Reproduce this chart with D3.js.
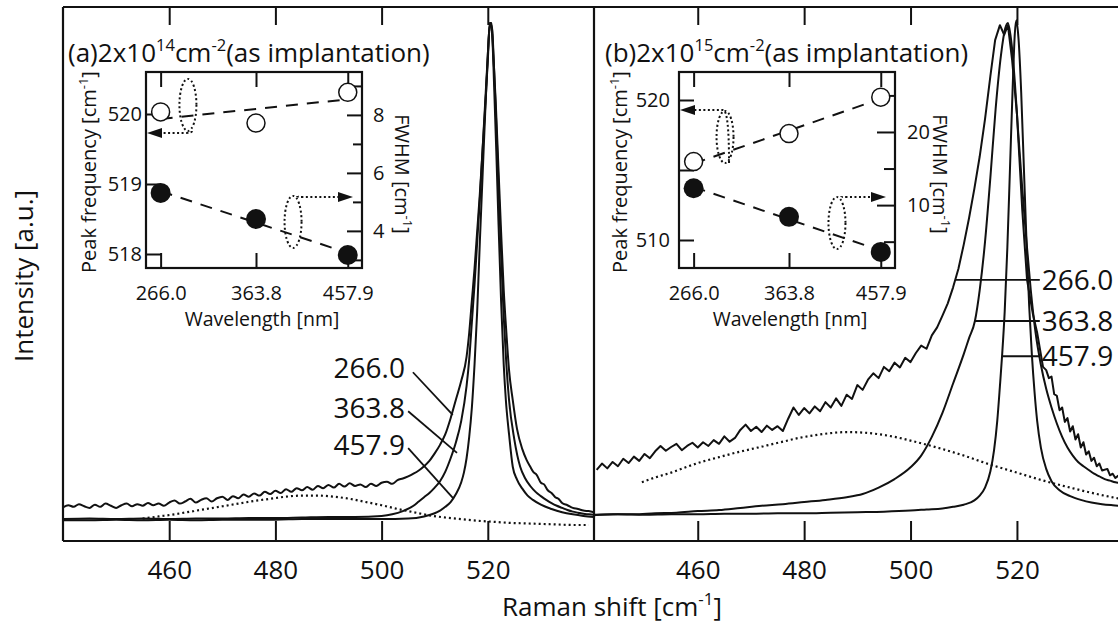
<!DOCTYPE html>
<html><head><meta charset="utf-8">
<script src="https://cdnjs.cloudflare.com/ajax/libs/d3/7.8.5/d3.min.js"></script>
<style>body{margin:0;background:#fff}svg{display:block}text{font-family:'Open Sans',sans-serif;fill:#111}</style>
</head><body>
<script>
// ---------------- DATA ----------------
const ramanTicks = [460, 480, 500, 520];
const wavelengths = [266.0, 363.8, 457.9];
const wavelengthLabels = ["266.0", "363.8", "457.9"];

// inset (a) 2x10^14
const peakFreqA = [520.03, 519.87, 520.31];
const fwhmA = [5.31, 4.41, 3.17];
const fitPeakA = [519.93, 520.21];
const fitFwhmA = [5.37, 3.24];
// inset (b) 2x10^15
const peakFreqB = [515.6, 517.6, 520.2];
const fwhmB = [12.3, 8.4, 3.6];
const fitPeakB = [515.46, 520.09];
const fitFwhmB = [12.47, 3.78];

// spectra (a) [Raman shift, intensity a.u.]
const a266 = [
[440,6.3],[441,6.7],[442,6.4],[443,6.9],[444,6.5],[445,6.2],[446,6.8],[447,6.4],[448,7.0],[449,6.6],
[450,6.2],[451,6.7],[452,7.0],[453,6.5],[454,6.9],[455,6.6],[456,7.1],[457,6.7],[458,7.0],[459,6.6],
[460,7.2],[461,7.6],[462,7.0],[463,7.4],[464,7.9],[465,7.2],[466,7.7],[467,8.0],[468,7.4],[469,8.0],
[470,8.3],[471,7.7],[472,8.4],[473,8.0],[474,8.7],[475,8.3],[476,8.9],[477,8.5],[478,9.2],[479,8.8],
[480,9.4],[481,9.0],[482,9.7],[483,9.2],[484,9.9],[485,9.5],[486,10.1],[487,9.6],[488,10.3],[489,9.9],
[490,10.5],[491,10.0],[492,10.7],[493,10.2],[494,10.8],[495,10.3],[496,10.6],[497,10.1],[498,10.7],[499,10.3],
[500,10.9],[501,11.1],[502,10.7],[503,11.4],[504,11.7],[505,12.1],[506,12.6],[507,13.2],[508,14.0],[509,15.0],
[510,16.4],[511,18.0],[512,20.0],[513,23.0],[514,26.5],[515,30.0],[516,34.5],[516.5,39],[517,45],[517.5,51],
[518,58],[518.5,65],[519,73],[519.5,81],[520,90],[520.4,97],[520.7,97],[521,92],[521.5,82],[522,70],
[522.5,58],[523,47],[523.5,39],[524,32],[524.7,26.4],[525.5,21],[526.5,17.2],[527.3,15.2],[528,13.9],[528.6,12.9],
[529.2,12.4],[530,10.9],[530.6,10.6],[531.3,9.5],[532,9.0],[532.7,8.2],[533.3,7.9],[534,7.1],[535,6.7],[536,6.2],
[537,6.0],[538,5.7],[539,5.6],[540,5.4]
];
const a363 = [
[440,4.1],[445,4.2],[450,4.1],[455,4.2],[460,4.1],[465,4.2],[470,4.2],[475,4.3],[480,4.3],[485,4.4],
[490,4.5],[495,4.5],[500,4.7],[502,5.0],[504,5.6],[506,6.6],[507,7.4],[508,8.2],[509,9.0],[510,10.0],
[511,11.2],[512,13.0],[513,15.5],[514,18.5],[515,22.5],[516,29],[516.5,34],[517,41],[517.5,48],[518,56],
[518.5,64],[519,73],[519.5,82],[520,91],[520.4,97],[520.8,96],[521.2,88],[521.6,78],[522,67],[522.5,54],
[523,42],[523.5,33],[524,26.4],[525,19],[526.1,13.9],[527,11.8],[528,10.3],[529,9.2],[530,8.4],[531,7.7],
[532,7.1],[533,6.6],[534,6.2],[535,5.8],[536,5.5],[537,5.3],[538,5.1],[539,5.0],[540,4.9]
];
const a457 = [
[440,3.9],[445,3.9],[450,4.0],[455,3.9],[460,4.0],[465,3.9],[470,4.0],[475,4.0],[480,4.0],[485,4.1],
[490,4.1],[495,4.1],[500,4.1],[505,4.2],[508,4.6],[510,5.2],[511,5.7],[512,6.4],[513,7.3],[514,8.8],
[515,11],[515.5,12.8],[516,15.5],[516.5,19.5],[517,25],[517.5,33],[518,43],[518.5,56],[519,68],[519.5,80],
[520,91],[520.4,97],[520.8,95],[521.2,85],[521.6,73],[522,60],[522.5,45],[523,33],[523.4,26.4],[524,20],
[524.7,13.9],[525.5,11.5],[526.5,9.8],[527.5,8.5],[528.5,7.7],[530,6.8],[532,6.0],[534,5.4],[536,5.0],[538,4.7],[540,4.5]
];
const aFit = [
[455,4.2],[458,4.6],[461,5.0],[464,5.5],[467,6.0],[470,6.5],[473,7.0],[476,7.5],[479,7.9],
[482,8.3],[485,8.5],[488,8.5],[491,8.3],[494,7.9],[497,7.3],[500,6.7],[503,6.0],[506,5.4],[509,4.8],
[512,4.4],[515,4.1],[518,3.8],[521,3.6],[524,3.4],[527,3.3],[530,3.2],[533,3.1],[536,3.0],[539,3.0]
];

// spectra (b)
const b266 = [
[441,13.3],[442,14.5],[443,13.6],[444,14.8],[445,14.0],[446,15.4],[447,14.6],[448,15.8],[449,15.0],[450,16.3],
[451,15.5],[452,16.8],[453,17.8],[454,16.9],[455,17.6],[456,18.2],[457,17.0],[458,17.8],[459,18.4],[460,17.5],
[461,18.5],[462,17.8],[463,18.9],[464,18.2],[465,19.6],[466,18.6],[467,19.3],[468,20.8],[469,21.8],[470,20.6],
[471,21.4],[472,20.4],[473,21.6],[474,20.8],[475,21.5],[476,20.6],[477,22.9],[478,25.0],[479,23.6],[480,24.9],
[481,23.9],[482,25.2],[483,24.3],[484,26.0],[485,25.0],[486,26.7],[487,25.3],[488,27.4],[489,26.6],[490,29.2],
[491,28.3],[492,30.2],[493,31.4],[494,30.5],[495,32.6],[496,31.8],[497,33.4],[498,32.5],[499,34.3],[500,33.5],
[501,35.2],[502,36.6],[503,36.0],[504,38.5],[505,40.0],[506,42.2],[507,44.5],[508,47.5],[509,51],[510,55.5],
[511,60.5],[512,66],[513,72],[514,79],[515,87],[515.9,93.8],[516.8,96.6],[517.6,94.8],[518.3,96.6],[519.1,90],
[520,80],[521,62],[521.9,48.9],[523,42.5],[523.8,39],[524.9,32.6],[525.5,32],[526,30.5],[526.5,30.8],[527,27.5],
[527.5,27.2],[528,24.5],[528.5,25],[529,22.3],[529.5,23],[530,20.5],[530.5,21.5],[531,19],[531.5,20],[532,17.5],
[532.5,18.5],[533,16.2],[533.5,16.8],[534,15],[534.5,15.6],[535,14],[535.5,14.5],[536,13.2],[537,13.5],[537.5,12.3],
[538,12.6],[538.5,11.8],[539,12.2],[540,11.4]
];
const b363 = [
[440.5,4.8],[444,5.0],[448,5.0],[452,5.2],[456,5.3],[460,5.6],[464,5.8],[468,6.2],[472,6.6],[476,6.9],
[480,7.3],[484,7.7],[488,8.2],[491,8.8],[494,10.0],[497,11.6],[500,13.8],[502,16],[504,19.5],[506,24],
[508,29.5],[510,35],[511,38],[512.1,41.2],[513,47],[514,56],[515,68],[516,81],[517,91],[517.8,96],
[518.3,97],[519,93],[519.6,86],[520.2,77],[521,66],[521.8,56],[522.6,47],[523.5,39],[524.5,33],[525.5,28.5],
[526.5,25],[527.5,22],[528.5,19.5],[529.5,17.5],[530.5,16],[531.5,14.8],[532.5,14],[533.5,13.3],[534.5,12.6],[535.5,12.1],
[536.5,11.6],[537.5,11.3],[538.5,11.0],[539.5,10.8],[540.5,10.6]
];
const b457 = [
[440.5,4.9],[445,5.0],[450,4.9],[455,5.0],[460,5.0],[465,5.1],[470,5.1],[475,5.2],[480,5.2],[485,5.3],
[490,5.4],[495,5.5],[500,5.7],[503,5.9],[506,6.1],[508,6.4],[510,6.8],[512,7.6],[513,8.5],[514,10],
[515,13],[515.7,17],[516.3,22.5],[516.8,29],[517.2,34.6],[517.7,43],[518.2,55],[518.7,70],[519.2,85],[519.6,95],
[519.9,97.5],[520.3,94],[520.8,84],[521.3,70],[521.8,56],[522.3,44],[522.8,35],[523.3,28],[523.8,22.5],[524.5,17.5],
[525.5,13.5],[526.5,11.2],[528,9.5],[530,8.4],[532,7.7],[534,7.2],[536,6.9],[538,6.7],[540.5,6.5]
];
const bFit = [
[449.5,11],[452,11.9],[455,12.8],[458,13.9],[461,14.9],[464,15.7],[467,16.5],[470,17.2],[473,17.9],[476,18.6],
[479,19.3],[482,19.8],[485,20.2],[488,20.4],[491,20.3],[494,20.0],[497,19.5],[500,18.8],[505,17.5],[510,16],
[515,14.3],[520,12.8],[525,11.3],[530,10],[535,8.8],[540,7.8]
];

// wavelength labels for spectra
const labelsA = [
  {t:"266.0", tx:504.4, ty:32.4, x0:505.9, y0:31.6, x1:513.4, y1:23.6},
  {t:"363.8", tx:504.4, ty:24.9, x0:505.0, y0:24.3, x1:514.2, y1:16.5},
  {t:"457.9", tx:504.4, ty:17.9, x0:505.0, y0:17.4, x1:513.5, y1:8.0}
];
const labelsB = [
  {t:"266.0", u:48.9, x0:508.4, x1:524.3},
  {t:"363.8", u:41.2, x0:512.1, x1:524.3},
  {t:"457.9", u:34.6, x0:517.2, x1:524.3}
];

// ---------------- DRAW ----------------
const W = 1118, H = 627;
const svg = d3.select("body").append("svg").attr("width", W).attr("height", H);
svg.append("rect").attr("width", W).attr("height", H).attr("fill", "#fff");

const yTop = 7, yBot = 541;
const y = d3.scaleLinear().domain([0, 100]).range([yBot, yTop]);
const xA = d3.scaleLinear().domain([440, 540]).range([63, 594]);
const xB = d3.scaleLinear().domain([440.5, 540.5]).range([594, 1126]);

const defs = svg.append("defs");
defs.append("clipPath").attr("id", "clipA").append("rect").attr("x", 63).attr("y", yTop).attr("width", 531).attr("height", yBot - yTop);
defs.append("clipPath").attr("id", "clipB").append("rect").attr("x", 594).attr("y", yTop).attr("width", 532).attr("height", yBot - yTop);

function drawPanel(x, clip, curves, fit) {
  const g = svg.append("g").attr("clip-path", `url(#${clip})`);
  curves.forEach(c => {
    const line = d3.line().x(d => x(d[0])).y(d => y(d[1])).curve(c.jagged ? d3.curveLinear : d3.curveMonotoneX);
    g.append("path").attr("d", line(c.data)).attr("fill", "none")
      .attr("stroke", "#111").attr("stroke-width", 2).attr("stroke-linejoin", "round");
  });
  const fl = d3.line().x(d => x(d[0])).y(d => y(d[1])).curve(d3.curveMonotoneX);
  g.append("path").attr("d", fl(fit)).attr("fill", "none").attr("stroke", "#111")
    .attr("stroke-width", 2.2).attr("stroke-dasharray", "2,3");
  const ab = svg.append("g").attr("transform", `translate(0,${yBot})`)
    .call(d3.axisBottom(x).tickValues(ramanTicks).tickSize(-20).tickPadding(20));
  ab.select(".domain").remove();
  ab.selectAll("line").attr("stroke", "#111").attr("stroke-width", 2);
  ab.selectAll("text").attr("font-size", 26).attr("font-family", "'Open Sans',sans-serif").attr("fill", "#111");
  const at = svg.append("g").attr("transform", `translate(0,${yTop})`)
    .call(d3.axisTop(x).tickValues(ramanTicks).tickSize(-18).tickFormat(""));
  at.select(".domain").remove();
  at.selectAll("line").attr("stroke", "#111").attr("stroke-width", 2);
}
drawPanel(xA, "clipA", [{data: a266}, {data: a363}, {data: a457}], aFit);
drawPanel(xB, "clipB", [{data: b266, jagged: true}, {data: b363}, {data: b457}], bFit);

// frame
const frame = svg.append("g").attr("stroke", "#111").attr("stroke-width", 2.2);
frame.append("line").attr("x1", 63).attr("x2", W).attr("y1", yTop).attr("y2", yTop);
frame.append("line").attr("x1", 63).attr("x2", W).attr("y1", yBot).attr("y2", yBot);
frame.append("line").attr("x1", 63).attr("x2", 63).attr("y1", yTop).attr("y2", yBot);
frame.append("line").attr("x1", 594).attr("x2", 594).attr("y1", yTop).attr("y2", yBot);

// spectrum labels
labelsA.forEach(l => {
  svg.append("text").attr("x", xA(l.tx)).attr("y", y(l.ty)).attr("dy", "0.36em")
    .attr("text-anchor", "end").attr("font-size", 28).text(l.t);
  svg.append("line").attr("x1", xA(l.x0)).attr("y1", y(l.y0)).attr("x2", xA(l.x1)).attr("y2", y(l.y1))
    .attr("stroke", "#111").attr("stroke-width", 1.8);
});
labelsB.forEach(l => {
  svg.append("line").attr("x1", xB(l.x0)).attr("x2", xB(l.x1)).attr("y1", y(l.u)).attr("y2", y(l.u))
    .attr("stroke", "#111").attr("stroke-width", 1.8);
  svg.append("text").attr("x", xB(l.x1) + 2).attr("y", y(l.u)).attr("dy", "0.36em")
    .attr("font-size", 28).text(l.t);
});

// axis titles
const xt = svg.append("text").attr("x", 612).attr("y", 616).attr("text-anchor", "middle").attr("font-size", 26);
xt.append("tspan").text("Raman shift [cm");
xt.append("tspan").attr("dy", -11).attr("font-size", 17).text("-1");
xt.append("tspan").attr("dy", 11).text("]");
svg.append("text").attr("transform", "translate(33,276) rotate(-90)").attr("text-anchor", "middle")
  .attr("font-size", 26).text("Intensity [a.u.]");

// ---------------- INSETS ----------------
const iw = 216, ih = 196;
const xIn = d3.scaleLinear().domain([251, 472.5]).range([0, iw]);

function titleText(g, x, yy, letter, exp) {
  const t = g.append("text").attr("x", x).attr("y", yy).attr("font-size", 26);
  t.append("tspan").text(`(${letter})2x10`);
  t.append("tspan").attr("dy", -11).attr("font-size", 16.5).text(exp);
  t.append("tspan").attr("dy", 11).text("cm");
  t.append("tspan").attr("dy", -11).attr("font-size", 16.5).text("-2");
  t.append("tspan").attr("dy", 11).text("(as implantation)");
}
titleText(svg, 68, 62, "a", "14");
titleText(svg, 605, 62, "b", "15");

function supLabel(g, tx, ty, rot, pre) {
  const t = g.append("text").attr("transform", `translate(${tx},${ty}) rotate(${rot})`)
    .attr("text-anchor", "middle").attr("font-size", 20);
  t.append("tspan").text(pre + " [cm");
  t.append("tspan").attr("dy", -8).attr("font-size", 13).text("-1");
  t.append("tspan").attr("dy", 8).text("]");
}

function drawInset(ox, oy, cfg) {
  const g = svg.append("g").attr("transform", `translate(${ox},${oy})`);
  const yL = d3.scaleLinear().domain(cfg.leftDom).range([ih, 0]);
  const yR = d3.scaleLinear().domain(cfg.rightDom).range([ih, 0]);
  const style = sel => { sel.select(".domain").remove(); sel.selectAll("line").attr("stroke", "#111").attr("stroke-width", 2);
    sel.selectAll("text").attr("font-size", 20).attr("font-family", "'Open Sans',sans-serif").attr("fill", "#111"); };
  g.append("g").attr("transform", `translate(0,${ih})`)
    .call(d3.axisBottom(xIn).tickValues(wavelengths).tickFormat((d, i) => wavelengthLabels[i]).tickSize(-15).tickPadding(18)).call(style);
  g.append("g").call(d3.axisTop(xIn).tickValues(wavelengths).tickSize(-15).tickFormat("")).call(style);
  g.append("g").call(d3.axisLeft(yL).tickValues(cfg.leftMajor).tickSize(-15).tickPadding(cfg.leftPad).tickFormat(d3.format("d"))).call(style);
  g.append("g").call(d3.axisLeft(yL).tickValues(cfg.leftMinor).tickSize(-15).tickFormat("")).call(style);
  g.append("g").attr("transform", `translate(${iw},0)`)
    .call(d3.axisRight(yR).tickValues(cfg.rightMajor).tickSize(-cfg.rMajLen).tickPadding(cfg.rightPad).tickFormat(d3.format("d"))).call(style);
  g.append("g").attr("transform", `translate(${iw},0)`)
    .call(d3.axisRight(yR).tickValues(cfg.rightMinor).tickSize(-cfg.rMinLen).tickFormat("")).call(style);
  g.append("rect").attr("width", iw).attr("height", ih).attr("fill", "none").attr("stroke", "#111").attr("stroke-width", 2.2);

  const ends = [wavelengths[0], wavelengths[2]];
  g.append("line").attr("x1", xIn(ends[0])).attr("x2", xIn(ends[1])).attr("y1", yL(cfg.fitPeak[0])).attr("y2", yL(cfg.fitPeak[1]))
    .attr("stroke", "#111").attr("stroke-width", 2).attr("stroke-dasharray", "12,9");
  g.append("line").attr("x1", xIn(ends[0])).attr("x2", xIn(ends[1])).attr("y1", yR(cfg.fitFwhm[0])).attr("y2", yR(cfg.fitFwhm[1]))
    .attr("stroke", "#111").attr("stroke-width", 2).attr("stroke-dasharray", "12,9");
  g.selectAll(".op").data(wavelengths).join("circle").attr("cx", d => xIn(d)).attr("cy", (d, i) => yL(cfg.peak[i]))
    .attr("r", 9).attr("fill", "#fff").attr("stroke", "#111").attr("stroke-width", 1.5);
  g.selectAll(".fl").data(wavelengths).join("circle").attr("cx", d => xIn(d)).attr("cy", (d, i) => yR(cfg.fwhm[i]))
    .attr("r", 10).attr("fill", "#111");
  const dot = "2,2.5";
  cfg.ellipses.forEach(e => {
    const sc = e.side === "L" ? yL : yR;
    const cx = xIn(e.wl), cy = sc(e.val);
    g.append("ellipse").attr("cx", cx).attr("cy", cy).attr("rx", 8.5).attr("ry", 26)
      .attr("fill", "none").attr("stroke", "#111").attr("stroke-width", 2).attr("stroke-dasharray", dot);
    const ay = sc(e.arrowVal);
    const tipX = e.side === "L" ? 1 : iw - 9;
    const startX = cx + 4;
    const baseX = e.side === "L" ? tipX + 15 : tipX - 15;
    g.append("path").attr("d", `M${startX},${e.side === "L" ? cy + 26 : cy - 26} Q${startX},${ay} ${startX + (e.side === "L" ? -6 : 6)},${ay} L${baseX},${ay}`)
      .attr("fill", "none").attr("stroke", "#111").attr("stroke-width", 2).attr("stroke-dasharray", dot);
    g.append("path").attr("d", `M${tipX},${ay} L${baseX},${ay - 5} L${baseX},${ay + 5} Z`).attr("fill", "#111");
  });

  supLabel(g, cfg.lLabX, ih / 2 + 2, -90, "Peak frequency");
  supLabel(g, cfg.rLabX, ih / 2 + 4, 90, "FWHM");
  g.append("text").attr("x", iw / 2 + cfg.wlShift).attr("y", ih + 58).attr("text-anchor", "middle").attr("font-size", 19.5).text("Wavelength [nm]");
}

drawInset(146, 72, {
  leftDom: [517.8, 520.6], rightDom: [2.72, 9.48],
  leftMajor: [518, 519, 520], leftMinor: [], leftPad: 4,
  rightMajor: [4, 6, 8], rightMinor: [3, 5, 7, 9], rMajLen: 15, rMinLen: 9, rightPad: 11,
  peak: peakFreqA, fwhm: fwhmA, fitPeak: fitPeakA, fitFwhm: fitFwhmA,
  ellipses: [
    {side: "L", wl: 294, val: 520.13, arrowVal: 519.73},
    {side: "R", wl: 401.8, val: 4.31, arrowVal: 5.17}
  ],
  lLabX: -50, rLabX: 249, wlShift: 8
});
drawInset(679, 72, {
  leftDom: [508, 522], rightDom: [1.4, 28.2],
  leftMajor: [510, 520], leftMinor: [515], leftPad: 9,
  rightMajor: [10, 20], rightMinor: [5, 15, 25], rMajLen: 18, rMinLen: 11, rightPad: 12,
  peak: peakFreqB, fwhm: fwhmB, fitPeak: fitPeakB, fitFwhm: fitFwhmB,
  ellipses: [
    {side: "L", wl: 298.2, val: 517.36, arrowVal: 519.29},
    {side: "R", wl: 413, val: 7.54, arrowVal: 11.1}
  ],
  lLabX: -52, rLabX: 254, wlShift: 3
});
</script>
</body></html>
